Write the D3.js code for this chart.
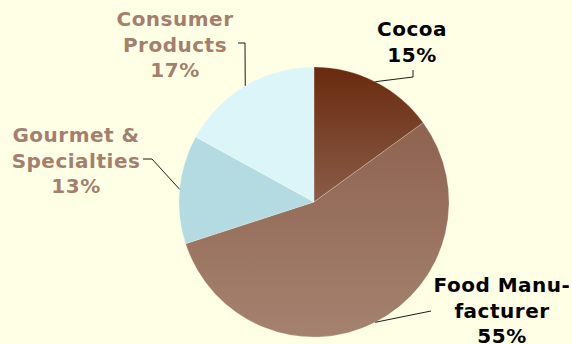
<!DOCTYPE html>
<html>
<head>
<meta charset="utf-8">
<script src="https://cdn.jsdelivr.net/npm/d3@7"></script>
<style>
  html, body { margin: 0; padding: 0; background: #FFFFE6; }
  svg { display: block; }
  text { font-family: "DejaVu Sans", Verdana, sans-serif; font-weight: bold; font-size: 20px; letter-spacing: 0.5px; }
</style>
</head>
<body>
<svg id="chart" width="572" height="344"></svg>
<script>
// Market segments, clockwise from 12 o'clock
const categories = ["Cocoa", "Food Manufacturer", "Gourmet & Specialties", "Consumer Products"];
const values = [15, 55, 13, 17];
const labelLines = [
  ["Cocoa", "15%"],
  ["Food Manu-", "facturer", "55%"],
  ["Gourmet &", "Specialties", "13%"],
  ["Consumer", "Products", "17%"]
];

// Slice fills: [top colour, bottom colour] of a vertical gradient
const sliceFills = [
  ["#692a0e", "#8a5c48"],
  ["#8e6350", "#a4826f"],
  ["#b3dbe1", "#b3dbe1"],
  ["#dcf5f9", "#dcf5f9"]
];
const labelColors = ["#000000", "#000000", "#a47f6d", "#a47f6d"];

// Label block placement: text centre x, first baseline y, and leader elbow
const labelLayout = [
  { x: 412, y: 36, elbow: [[413, 77], [413, 70]] },
  { x: 502, y: 292, elbow: [[431, 311]] },
  { x: 76, y: 142, elbow: [[152, 159], [143, 159]] },
  { x: 175, y: 26, elbow: [[245, 43], [238, 43]] }
];

const svg = d3.select("#chart");
const cx = 314, cy = 202, radius = 135, lineStep = 25.5;

const defs = svg.append("defs");
sliceFills.forEach((f, i) => {
  const g = defs.append("linearGradient")
    .attr("id", "grad" + i)
    .attr("x1", 0).attr("y1", 0).attr("x2", 0).attr("y2", 1);
  g.append("stop").attr("offset", "0%").attr("stop-color", f[0]);
  g.append("stop").attr("offset", "100%").attr("stop-color", f[1]);
});

const pie = d3.pie().sort(null).value(d => d)(values);
const arc = d3.arc().innerRadius(0).outerRadius(radius);

const g = svg.append("g").attr("transform", `translate(${cx},${cy})`);
g.selectAll("path.slice")
  .data(pie)
  .join("path")
  .attr("class", "slice")
  .attr("d", arc)
  .attr("fill", (d, i) => `url(#grad${i})`)
  .attr("stroke", "rgba(255,255,240,0.35)")
  .attr("stroke-width", 0.6);

// Leader lines from the middle of each slice's rim to its label
pie.forEach((d, i) => {
  const a = (d.startAngle + d.endAngle) / 2;
  const start = [cx + radius * Math.sin(a), cy - radius * Math.cos(a)];
  const pts = [start, ...labelLayout[i].elbow];
  svg.append("path")
    .attr("d", d3.line()(pts))
    .attr("fill", "none")
    .attr("stroke", "#1a1a1a")
    .attr("stroke-width", 1);
});

// Labels
labelLines.forEach((lines, i) => {
  const t = svg.append("text")
    .attr("text-anchor", "middle")
    .attr("fill", labelColors[i]);
  lines.forEach((ln, j) => {
    t.append("tspan")
      .attr("x", labelLayout[i].x)
      .attr("y", labelLayout[i].y + j * lineStep)
      .text(ln);
  });
});
</script>
</body>
</html>
